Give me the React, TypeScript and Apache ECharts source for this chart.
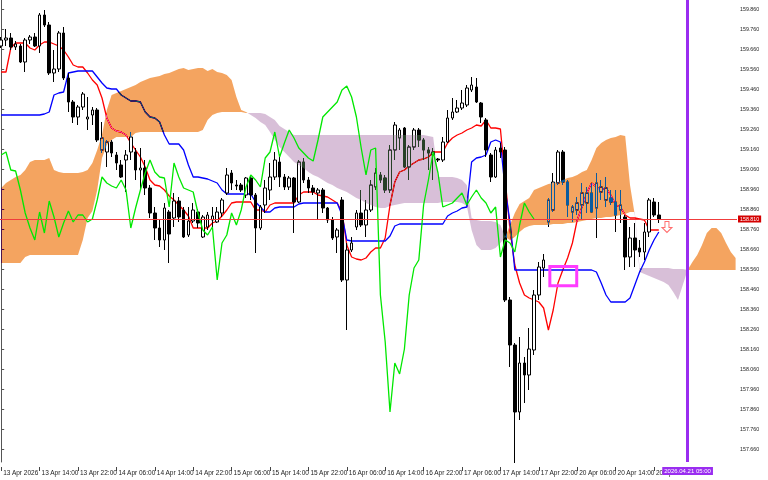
import React, { useEffect, useRef } from "react";
import * as echarts from "echarts";

// ---- axis ticks ----
const xTickBars = [0, 8, 16, 24, 32, 40, 48, 56, 64, 72, 80, 88, 96, 104, 112, 120, 128, 136];
const xTickLabels = [
  "13 Apr 2026", "13 Apr 14:00", "13 Apr 22:00", "14 Apr 06:00", "14 Apr 14:00", "14 Apr 22:00",
  "15 Apr 06:00", "15 Apr 14:00", "15 Apr 22:00", "16 Apr 06:00", "16 Apr 14:00", "16 Apr 22:00",
  "17 Apr 06:00", "17 Apr 14:00", "17 Apr 22:00", "20 Apr 06:00", "20 Apr 14:00", "20 Apr 22:00",
];
const yTickValues = [
  157.66, 157.76, 157.86, 157.96, 158.06, 158.16, 158.26, 158.36, 158.46, 158.56, 158.66, 158.76,
  158.86, 158.96, 159.06, 159.16, 159.26, 159.36, 159.46, 159.56, 159.66, 159.76, 159.86,
];

// ---- H1 candles (bar 0 = 13 Apr 06:00) ----
const open = [
  159.675, 159.705, 159.715, 159.670, 159.675, 159.595, 159.705, 159.720, 159.675, 159.830,
  159.780, 159.540, 159.560, 159.740, 159.515, 159.395, 159.320, 159.370, 159.310, 159.330,
  159.355, 159.155, 159.145, 159.195, 159.130, 159.080, 159.105, 159.145, 159.145, 159.055,
  159.065, 158.965, 158.840, 158.765, 158.705, 158.845, 158.815, 158.900, 158.855, 158.730,
  158.800, 158.845, 158.720, 158.770, 158.805, 158.795, 158.840, 158.940, 159.040, 158.980,
  158.980, 158.930, 159.015, 158.930, 158.765, 158.880, 158.955, 159.020, 159.095, 159.020,
  158.970, 159.015, 158.895, 159.095, 159.005, 158.965, 158.940, 158.955, 158.865, 158.805,
  158.720, 158.905, 158.505, 158.655, 158.770, 158.840, 158.780, 158.855, 158.970, 159.030,
  159.015, 158.955, 159.155, 159.215, 159.265, 159.070, 159.170, 159.255, 159.205, 159.155,
  159.130, 159.110, 159.105, 159.195, 159.315, 159.345, 159.365, 159.380, 159.455, 159.470,
  159.390, 159.305, 159.130, 159.020, 159.165, 159.155, 158.405, 158.180, 157.845, 158.090,
  158.030, 158.155, 158.430, 158.565, 158.795, 158.855, 158.990, 159.145, 158.995, 158.845,
  158.855, 158.880, 158.890, 158.940, 158.865, 158.945, 158.905, 158.915, 158.895, 158.855,
  158.820, 158.620, 158.715, 158.665, 158.645, 158.745, 158.895, 158.830,
];
const high = [
  159.720, 159.760, 159.740, 159.700, 159.685, 159.715, 159.730, 159.740, 159.840, 159.855,
  159.795, 159.655, 159.750, 159.770, 159.540, 159.405, 159.380, 159.445, 159.420, 159.370,
  159.365, 159.295, 159.205, 159.205, 159.145, 159.105, 159.155, 159.245, 159.165, 159.165,
  159.105, 158.980, 158.870, 158.805, 158.890, 158.855, 158.940, 158.920, 158.870, 158.870,
  158.890, 158.860, 158.830, 158.845, 158.870, 158.870, 158.915, 159.065, 159.055, 159.005,
  158.990, 159.020, 159.025, 158.940, 158.880, 159.005, 159.090, 159.145, 159.120, 159.035,
  159.025, 159.020, 159.105, 159.115, 159.020, 158.980, 158.965, 158.965, 158.870, 158.820,
  158.765, 158.920, 158.690, 158.720, 158.855, 158.955, 158.905, 159.005, 159.065, 159.045,
  159.030, 159.180, 159.295, 159.265, 159.270, 159.180, 159.265, 159.265, 159.215, 159.170,
  159.165, 159.115, 159.220, 159.355, 159.415, 159.405, 159.455, 159.480, 159.520, 159.515,
  159.395, 159.315, 159.140, 159.170, 159.190, 159.170, 158.420, 158.190, 158.220, 158.120,
  158.265, 158.455, 158.595, 158.635, 158.915, 159.040, 159.155, 159.155, 159.005, 158.880,
  158.920, 158.990, 158.970, 158.990, 159.040, 159.005, 159.020, 158.955, 158.955, 158.955,
  158.830, 158.770, 158.790, 158.705, 158.790, 158.915, 158.915, 158.895,
];
const low = [
  159.665, 159.675, 159.655, 159.655, 159.590, 159.545, 159.685, 159.670, 159.640, 159.770,
  159.530, 159.495, 159.545, 159.505, 159.345, 159.290, 159.280, 159.355, 159.255, 159.280,
  159.195, 159.140, 159.070, 159.120, 159.055, 159.015, 158.945, 159.105, 159.005, 158.955,
  158.930, 158.815, 158.705, 158.670, 158.655, 158.590, 158.770, 158.795, 158.715, 158.720,
  158.790, 158.765, 158.715, 158.755, 158.755, 158.790, 158.820, 158.930, 158.955, 158.955,
  158.945, 158.915, 158.905, 158.640, 158.755, 158.840, 158.905, 159.005, 158.970, 158.955,
  158.955, 158.740, 158.890, 158.990, 158.940, 158.930, 158.805, 158.840, 158.790, 158.705,
  158.640, 158.495, 158.255, 158.645, 158.755, 158.770, 158.720, 158.845, 158.955, 158.990,
  158.940, 158.940, 159.105, 159.155, 159.065, 159.005, 159.155, 159.170, 159.105, 159.055,
  159.005, 159.095, 159.095, 159.190, 159.305, 159.340, 159.355, 159.370, 159.445, 159.390,
  159.290, 159.120, 158.995, 159.015, 159.115, 158.395, 158.070, 157.590, 157.805, 157.890,
  157.955, 158.130, 158.405, 158.520, 158.770, 158.845, 158.980, 158.980, 158.820, 158.795,
  158.830, 158.805, 158.840, 158.840, 158.715, 158.905, 158.870, 158.880, 158.745, 158.790,
  158.555, 158.570, 158.570, 158.620, 158.605, 158.720, 158.820, 158.790,
];
const close = [
  159.705, 159.715, 159.670, 159.685, 159.595, 159.705, 159.720, 159.675, 159.830, 159.780,
  159.540, 159.560, 159.740, 159.515, 159.395, 159.320, 159.370, 159.435, 159.320, 159.355,
  159.205, 159.215, 159.195, 159.140, 159.090, 159.020, 159.130, 159.220, 159.055, 159.065,
  158.965, 158.840, 158.765, 158.705, 158.865, 158.735, 158.900, 158.820, 158.720, 158.800,
  158.855, 158.790, 158.820, 158.830, 158.825, 158.845, 158.905, 159.030, 158.990, 158.975,
  158.955, 159.015, 158.930, 158.765, 158.870, 158.965, 159.020, 159.105, 159.020, 158.970,
  159.015, 158.895, 159.095, 159.005, 158.965, 158.945, 158.955, 158.865, 158.805, 158.715,
  158.755, 158.505, 158.655, 158.690, 158.840, 158.780, 158.855, 158.980, 159.040, 159.005,
  158.955, 159.155, 159.280, 159.255, 159.070, 159.170, 159.255, 159.205, 159.155, 159.140,
  159.145, 159.105, 159.195, 159.315, 159.345, 159.365, 159.390, 159.465, 159.480, 159.395,
  159.320, 159.155, 159.020, 159.155, 159.145, 158.405, 158.180, 157.845, 158.090, 158.030,
  158.160, 158.430, 158.570, 158.605, 158.905, 158.995, 159.145, 158.995, 158.880, 158.870,
  158.890, 158.940, 158.940, 158.845, 158.990, 158.970, 158.965, 158.895, 158.830, 158.880,
  158.620, 158.715, 158.655, 158.645, 158.745, 158.905, 158.830, 158.810,
];

// ---- Ichimoku lines ----
const tenkan = [
  159.545, 159.545, 159.665, 159.690, 159.690, 159.690, 159.665, 159.655, 159.680, 159.695,
  159.695, 159.685, 159.675, 159.655, 159.620, 159.580, 159.570, 159.570, 159.540, 159.505,
  159.480, 159.415, 159.315, 159.265, 159.250, 159.245, 159.230, 159.190, 159.155, 159.120,
  159.070, 159.005, 158.980, 158.975, 158.955, 158.925, 158.905, 158.880, 158.855, 158.825,
  158.765, 158.765, 158.765, 158.765, 158.790, 158.800, 158.825, 158.855, 158.890, 158.895,
  158.895, 158.895, 158.895, 158.855, 158.855, 158.845, 158.880, 158.890, 158.890, 158.890,
  158.890, 158.890, 158.930, 158.945, 158.945, 158.945, 158.930, 158.925, 158.920, 158.905,
  158.890, 158.845, 158.680, 158.620, 158.610, 158.605, 158.615, 158.645, 158.665, 158.665,
  158.715, 158.880, 158.995, 159.045, 159.055, 159.075, 159.090, 159.105, 159.110, 159.120,
  159.145, 159.145, 159.145, 159.190, 159.215, 159.230, 159.240, 159.255, 159.265, 159.280,
  159.275, 159.305, 159.265, 159.265, 159.260, 159.005, 158.755, 158.580, 158.490, 158.430,
  158.415, 158.405, 158.395, 158.365, 158.255, 158.355, 158.490, 158.555, 158.615, 158.690,
  158.805, 158.870, 158.940, 158.990, 158.970, 158.955, 158.965, 158.930, 158.880, 158.870,
  158.830, 158.815, 158.815, 158.810, 158.805, 158.755, 158.755, 158.755,
];
const kijun = [
  159.330, 159.330, 159.330, 159.330, 159.330, 159.330, 159.330, 159.330, 159.330, 159.335,
  159.345, 159.430, 159.440, 159.445, 159.540, 159.545, 159.550, 159.550, 159.550, 159.550,
  159.520, 159.490, 159.465, 159.460, 159.460, 159.430, 159.415, 159.400, 159.400, 159.395,
  159.345, 159.320, 159.315, 159.295, 159.230, 159.185, 159.185, 159.185, 159.155, 159.080,
  159.020, 159.020, 159.015, 159.010, 159.000, 158.990, 158.955, 158.935, 158.935, 158.935,
  158.935, 158.935, 158.935, 158.895, 158.870, 158.845, 158.845, 158.865, 158.870, 158.870,
  158.870, 158.870, 158.885, 158.890, 158.890, 158.890, 158.890, 158.890, 158.890, 158.890,
  158.890, 158.830, 158.705, 158.700, 158.700, 158.700, 158.700, 158.700, 158.700, 158.700,
  158.700, 158.725, 158.775, 158.785, 158.785, 158.785, 158.785, 158.785, 158.785, 158.785,
  158.785, 158.785, 158.785, 158.825, 158.840, 158.850, 158.865, 158.870, 159.095, 159.115,
  159.120, 159.130, 159.195, 159.205, 159.195, 158.955, 158.795, 158.555, 158.555, 158.555,
  158.555, 158.555, 158.555, 158.555, 158.555, 158.555, 158.555, 158.555, 158.555, 158.555,
  158.555, 158.555, 158.555, 158.555, 158.545, 158.490, 158.430, 158.395, 158.395, 158.395,
  158.395, 158.415, 158.480, 158.545, 158.595, 158.655, 158.705, 158.745,
];
const chikou = [
  159.130, 159.145, 159.055, 159.050, 158.955, 158.840, 158.765, 158.705, 158.845, 158.740,
  158.900, 158.820, 158.720, 158.790, 158.850, 158.795, 158.830, 158.830, 158.795, 158.810,
  158.905, 159.020, 158.990, 158.975, 158.965, 159.005, 158.955, 158.765, 158.865, 158.955,
  159.040, 159.105, 159.045, 159.020, 159.015, 158.870, 159.090, 159.020, 158.965, 158.955,
  158.945, 158.840, 158.755, 158.730, 158.770, 158.505, 158.690, 158.730, 158.840, 158.780,
  158.855, 158.970, 159.030, 159.005, 158.970, 159.115, 159.145, 159.245, 159.120, 159.190,
  159.255, 159.215, 159.165, 159.140, 159.115, 159.100, 159.205, 159.320, 159.345, 159.370,
  159.395, 159.455, 159.475, 159.420, 159.320, 159.165, 159.030, 159.155, 159.165, 158.430,
  158.195, 157.845, 158.090, 158.035, 158.160, 158.430, 158.565, 158.605, 158.880, 159.005,
  159.145, 159.040, 158.870, 158.880, 158.890, 158.915, 158.940, 158.880, 158.920, 158.955,
  158.915, 158.890, 158.840, 158.870, 158.620, 158.705, 158.690, 158.645, 158.780, 158.890,
  158.845, 158.810,
];
const senkouA = [
  158.965, 158.990, 159.005, 159.020, 159.030, 159.055, 159.095, 159.105, 159.105, 159.105,
  159.115, 159.055, 159.045, 159.040, 159.040, 159.040, 159.040, 159.045, 159.055, 159.090,
  159.155, 159.230, 159.355, 159.430, 159.440, 159.450, 159.460, 159.470, 159.480, 159.495,
  159.505, 159.515, 159.520, 159.525, 159.535, 159.540, 159.550, 159.560, 159.565, 159.555,
  159.560, 159.565, 159.565, 159.550, 159.560, 159.545, 159.540, 159.530, 159.505, 159.420,
  159.355, 159.345, 159.330, 159.315, 159.295, 159.280, 159.245, 159.205, 159.170, 159.145,
  159.120, 159.095, 159.080, 159.065, 159.045, 159.030, 159.020, 159.005, 158.990, 158.980,
  158.965, 158.955, 158.945, 158.930, 158.915, 158.905, 158.890, 158.880, 158.870, 158.865,
  158.865, 158.875, 158.880, 158.885, 158.890, 158.890, 158.890, 158.890, 158.890, 158.890,
  158.890, 158.890, 158.895, 158.895, 158.895, 158.895, 158.890, 158.875, 158.755, 158.680,
  158.655, 158.655, 158.655, 158.665, 158.690, 158.720, 158.780, 158.840, 158.885, 158.900,
  158.915, 158.955, 158.965, 158.975, 158.985, 158.990, 158.995, 159.005, 159.015, 159.020,
  159.030, 159.045, 159.055, 159.105, 159.165, 159.190, 159.205, 159.215, 159.220, 159.230,
  159.225, 158.980, 158.830, 158.545, 158.535, 158.525, 158.515, 158.505, 158.495, 158.480,
  158.445, 158.405, 158.480, 158.555, 158.595, 158.630, 158.680, 158.740, 158.765, 158.765,
  158.740, 158.690, 158.645, 158.615,
];
const senkouB = [
  158.590, 158.590, 158.590, 158.590, 158.590, 158.620, 158.630, 158.630, 158.630, 158.630,
  158.630, 158.630, 158.630, 158.630, 158.630, 158.630, 158.630, 158.705, 158.815, 158.850,
  158.955, 159.115, 159.180, 159.205, 159.220, 159.220, 159.220, 159.220, 159.240, 159.245,
  159.245, 159.245, 159.245, 159.245, 159.245, 159.245, 159.245, 159.245, 159.245, 159.245,
  159.245, 159.245, 159.255, 159.305, 159.330, 159.340, 159.345, 159.345, 159.345, 159.345,
  159.345, 159.340, 159.340, 159.340, 159.340, 159.335, 159.320, 159.305, 159.275, 159.260,
  159.245, 159.230, 159.230, 159.230, 159.230, 159.230, 159.230, 159.230, 159.230, 159.230,
  159.230, 159.230, 159.230, 159.230, 159.230, 159.230, 159.230, 159.230, 159.230, 159.230,
  159.230, 159.230, 159.230, 159.230, 159.230, 159.230, 159.230, 159.230, 159.230, 159.225,
  159.220, 159.020, 159.020, 159.020, 159.020, 159.015, 159.005, 158.980, 158.815, 158.805,
  158.800, 158.800, 158.800, 158.795, 158.780, 158.720, 158.705, 158.720, 158.745, 158.765,
  158.775, 158.780, 158.780, 158.780, 158.780, 158.785, 158.785, 158.785, 158.790, 158.790,
  158.795, 158.800, 158.805, 158.810, 158.815, 158.815, 158.820, 158.820, 158.825, 158.830,
  158.835, 158.845, 158.845, 158.565, 158.565, 158.565, 158.565, 158.565, 158.565, 158.565,
  158.560, 158.560, 158.560, 158.555, 158.555, 158.555, 158.555, 158.555, 158.555, 158.555,
  158.555, 158.555, 158.555, 158.555,
];

// ---- chart objects ----
const lastPrice = 158.81;
const markerBar = 143;
const markerLabel = "2026.04.21 05:00";
const boxBars = [114.3, 119.9];
const boxPrices = [158.573, 158.476];
const arrowPoint = [138.7, 158.77];

const ORANGE_INV = "#0b5b9f"; // inverse of SandyBrown, blended with "difference"
const THISTLE_INV = "#274027"; // inverse of Thistle
const FONT = "Liberation Sans, Arial, sans-serif";

export default function App() {
  const ref = useRef<HTMLDivElement>(null);

  useEffect(() => {
    const el = ref.current as HTMLDivElement;
    const chart = echarts.init(el, null, { renderer: "svg" });
    const pairs = (arr: number[]) => arr.map((v, i) => [i, v]);
    const candleData = open.map((o, i) => [i, o, close[i], low[i], high[i]]);

    const cloudRender = (_params: any, api: any) => {
      const P = senkouA.map((a, i) => {
        const pa = api.coord([i, a]);
        const pb = api.coord([i, senkouB[i]]);
        return { x: pa[0], ya: pa[1], yb: pb[1], d: a - senkouB[i] };
      });
      const children: any[] = [];
      let top: number[][] = [];
      let bot: number[][] = [];
      let sign = 0;
      const flush = () => {
        if (top.length >= 2 && sign !== 0) {
          children.push({
            type: "polygon",
            shape: { points: top.concat(bot.slice().reverse()) },
            style: { fill: sign > 0 ? ORANGE_INV : THISTLE_INV, stroke: null },
          });
        }
      };
      for (let i = 0; i < P.length; i++) {
        const p = P[i];
        if (i > 0) {
          const q = P[i - 1];
          if (q.d * p.d < 0) {
            const t = q.d / (q.d - p.d);
            const xc = q.x + t * (p.x - q.x);
            const yc = q.ya + t * (p.ya - q.ya);
            top.push([xc, yc]);
            bot.push([xc, yc]);
            flush();
            top = [[xc, yc]];
            bot = [[xc, yc]];
            sign = 0;
          }
        }
        top.push([p.x, p.ya]);
        bot.push([p.x, p.yb]);
        const s = Math.sign(p.d);
        if (s !== 0 && sign === 0) sign = s;
        if (s === 0 && sign !== 0) {
          flush();
          top = [[p.x, p.ya]];
          bot = [[p.x, p.yb]];
          sign = 0;
        }
      }
      flush();
      return { type: "group", children };
    };

    const option: any = {
      animation: false,
      backgroundColor: "#ffffff",
      grid: { left: 0, top: 0, width: 737, height: 462, containLabel: false, outerBoundsMode: "none" },
      xAxis: {
        type: "value",
        min: -0.25,
        max: 153.29,
        offset: 5,
        axisLine: { show: false },
        splitLine: { show: false },
        axisTick: { show: true, customValues: xTickBars, length: 4, lineStyle: { color: "#444" } },
        axisLabel: {
          customValues: xTickBars,
          formatter: (v: number) => {
            const k = xTickBars.indexOf(Math.round(v));
            return k >= 0 ? xTickLabels[k] : "";
          },
          align: "left",
          padding: [0, 0, 0, 2],
          margin: 2,
          fontSize: 6.5,
          fontFamily: FONT,
          color: "#222",
        },
      },
      yAxis: {
        type: "value",
        position: "right",
        min: 157.595,
        max: 159.905,
        scale: true,
        splitLine: { show: false },
        axisLine: { show: true, lineStyle: { color: "#555", width: 1 } },
        axisTick: { show: true, customValues: yTickValues, length: 3, lineStyle: { color: "#555" } },
        axisLabel: {
          customValues: yTickValues,
          formatter: (v: number) => v.toFixed(3),
          margin: 3,
          fontSize: 5.3,
          fontFamily: FONT,
          color: "#222",
        },
      },
      series: [
        {
          type: "candlestick",
          z: 2,
          silent: true,
          clip: false,
          data: candleData,
          encode: { x: 0, y: [1, 2, 3, 4] },
          barWidth: 3,
          itemStyle: {
            color: "#ffffff",
            color0: "#000000",
            borderColor: "#000000",
            borderColor0: "#000000",
            borderWidth: 1,
          },
        },
        {
          type: "line",
          name: "Tenkan",
          z: 2,
          silent: true,
          clip: false,
          data: pairs(tenkan),
          showSymbol: false,
          symbol: "none",
          lineStyle: { color: "#ff0000", width: 1.3 },
        },
        {
          type: "line",
          name: "Kijun",
          z: 2,
          silent: true,
          clip: false,
          data: pairs(kijun),
          showSymbol: false,
          symbol: "none",
          lineStyle: { color: "#0000ff", width: 1.3 },
        },
        {
          type: "custom",
          name: "Kumo",
          z: 3,
          silent: true,
          clip: false,
          data: [[0, senkouA[0]]],
          encode: { x: 0, y: 1 },
          renderItem: cloudRender,
        },
        {
          type: "line",
          name: "Chikou",
          z: 4,
          silent: true,
          clip: false,
          data: pairs(chikou),
          showSymbol: false,
          symbol: "none",
          lineStyle: { color: "#00e800", width: 1.3 },
        },
        {
          type: "scatter",
          z: 6,
          silent: true,
          data: [arrowPoint],
          symbol: "path://M3,0L7,0L7,6L10,6L5,11L0,6L3,6Z",
          symbolSize: [10, 11],
          itemStyle: { color: "rgba(0,0,0,0)", borderColor: "#ff4848", borderWidth: 1 },
          markLine: {
            z: 6,
            silent: true,
            symbol: ["none", "none"],
            data: [
              {
                yAxis: lastPrice,
                lineStyle: { color: "#f03c3c", width: 1, type: "solid" },
                label: {
                  show: true,
                  position: "end",
                  formatter: lastPrice.toFixed(3),
                  backgroundColor: "#d40000",
                  color: "#ffffff",
                  fontSize: 5.3,
                  fontFamily: FONT,
                  padding: [1, 2],
                  distance: 1,
                },
              },
              {
                xAxis: markerBar,
                lineStyle: { color: "#9a2df0", width: 3, type: "solid" },
                label: {
                  show: true,
                  position: "start",
                  formatter: markerLabel,
                  backgroundColor: "#9a2df0",
                  color: "#ffffff",
                  fontSize: 6,
                  fontFamily: FONT,
                  padding: [1, 2],
                  distance: 5,
                },
              },
            ],
          },
          markArea: {
            z: 6,
            silent: true,
            label: { show: false },
            itemStyle: { color: "rgba(0,0,0,0)", borderColor: "#ff3cff", borderWidth: 3 },
            data: [[
              { xAxis: boxBars[0], yAxis: boxPrices[0] },
              { xAxis: boxBars[1], yAxis: boxPrices[1] },
            ]],
          },
        },
      ],
    };

    chart.setOption(option);

    const applyBlend = () => {
      el.querySelectorAll("path").forEach((p) => {
        const f = (p.getAttribute("fill") || "").toLowerCase().replace(/\s/g, "");
        if (f === ORANGE_INV || f === THISTLE_INV || f === "rgb(11,91,159)" || f === "rgb(39,64,39)") {
          (p as SVGElement).style.mixBlendMode = "difference";
        }
      });
    };
    chart.on("rendered", applyBlend);
    applyBlend();
    const t = setTimeout(applyBlend, 30);

    return () => {
      clearTimeout(t);
      chart.dispose();
    };
  }, []);

  return (
    <>
      <style>{`path[fill="${ORANGE_INV}"],path[fill="${THISTLE_INV}"]{mix-blend-mode:difference}`}</style>
      <div ref={ref} style={{ position: "fixed", left: 0, top: 0, width: 768, height: 480 }} />
    </>
  );
}
